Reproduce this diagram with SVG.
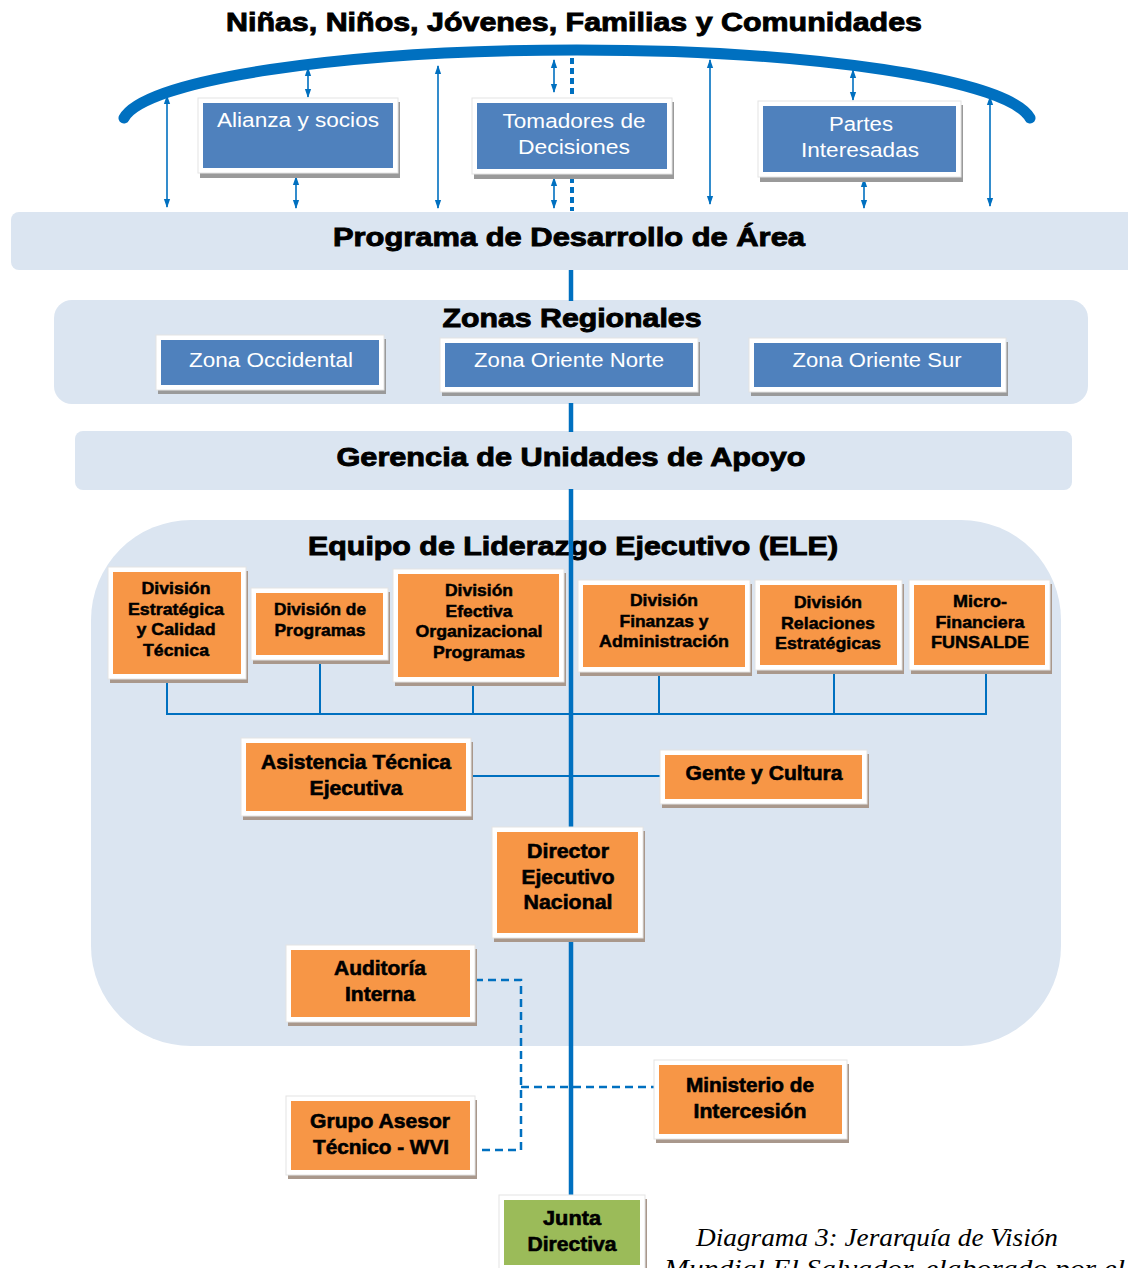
<svg xmlns="http://www.w3.org/2000/svg" width="1128" height="1268" viewBox="0 0 1128 1268">
<style>
.band{fill:#DBE5F1}
.hdr{font-family:"Liberation Sans",Arial,sans-serif;font-weight:bold;font-size:26px;fill:#000;stroke:#000;stroke-width:0.9;text-anchor:middle}
.frame{fill:#FFFFFF;stroke:#E4E4E4;stroke-width:1}
.shb{fill:#9A9A9A}
.sho{fill:#A9988C}
.fb{fill:#4F81BD}
.fo{fill:#F79646}
.fg{fill:#9BBB59}
.tb{font-family:"Liberation Sans",Arial,sans-serif;font-size:20px;fill:#FFFFFF;text-anchor:middle}
.to{font-family:"Liberation Sans",Arial,sans-serif;font-weight:bold;font-size:17px;fill:#000;stroke:#000;stroke-width:0.5;text-anchor:middle}
.tl{font-family:"Liberation Sans",Arial,sans-serif;font-weight:bold;font-size:20px;fill:#000;stroke:#000;stroke-width:0.6;text-anchor:middle}
.main{stroke:#0070C0;stroke-width:4.5;fill:none}
.thin{stroke:#0070C0;stroke-width:2;fill:none}
.arr{stroke:#0070C0;stroke-width:1.6;fill:none;marker-start:url(#ah);marker-end:url(#ah)}
.dash{stroke:#0070C0;stroke-width:2.5;fill:none;stroke-dasharray:8 5}
.dot{stroke:#0070C0;stroke-width:4;fill:none;stroke-dasharray:6 4}
.cap{font-family:"Liberation Serif","Times New Roman",serif;font-style:italic;font-size:26px;fill:#000}
</style>
<defs>
<marker id="ah" viewBox="0 0 10 10" refX="9" refY="5" markerWidth="9" markerHeight="9" orient="auto-start-reverse" markerUnits="userSpaceOnUse">
<path d="M0,1.5 L10,5 L0,8.5 z" fill="#0070C0"/>
</marker>
</defs>
<rect width="1128" height="1268" fill="#FFFFFF"/>

<g id="title">
<text class="hdr" x="574" y="31" textLength="696" lengthAdjust="spacingAndGlyphs">Niñas, Niños, Jóvenes, Familias y Comunidades</text>
</g>
<g id="arc">
<path d="M 124 118 A 455 75 0 0 1 1030 118" stroke="#0070C0" stroke-width="11" stroke-linecap="round" fill="none"/>
</g>

<g id="pda">
<rect class="band" x="11" y="212" width="1128" height="58" rx="8"/>
<text class="hdr" x="569" y="246" textLength="472" lengthAdjust="spacingAndGlyphs">Programa de Desarrollo de Área</text>
</g>
<g id="zonas">
<rect class="band" x="54" y="300" width="1034" height="104" rx="18"/>
<text class="hdr" x="572" y="327" textLength="259" lengthAdjust="spacingAndGlyphs">Zonas Regionales</text>
</g>
<g id="gerencia">
<rect class="band" x="75" y="431" width="997" height="59" rx="8"/>
<text class="hdr" x="571" y="466" textLength="469" lengthAdjust="spacingAndGlyphs">Gerencia de Unidades de Apoyo</text>
</g>
<g id="ele">
<rect class="band" x="91" y="520" width="970" height="526" rx="100" ry="100"/>
<text class="hdr" x="573" y="555" textLength="530" lengthAdjust="spacingAndGlyphs">Equipo de Liderazgo Ejecutivo (ELE)</text>
</g>

<g id="connectors">
<line class="arr" x1="167" y1="96" x2="167" y2="207"/>
<line class="arr" x1="308" y1="68" x2="308" y2="97"/>
<line class="arr" x1="296" y1="177" x2="296" y2="208"/>
<line class="arr" x1="438" y1="66" x2="438" y2="208"/>
<line class="arr" x1="554" y1="60" x2="554" y2="92"/>
<line class="arr" x1="554" y1="178" x2="554" y2="208"/>
<line class="arr" x1="710" y1="60" x2="710" y2="204"/>
<line class="arr" x1="853" y1="70" x2="853" y2="100"/>
<line class="arr" x1="864" y1="179" x2="864" y2="208"/>
<line class="arr" x1="990" y1="97" x2="990" y2="206"/>
<line class="dot" x1="572" y1="58" x2="572" y2="94"/>
<line class="dot" x1="572" y1="177" x2="572" y2="211"/>
<line class="main" x1="571" y1="270" x2="571" y2="301"/>
<line class="main" x1="571" y1="403" x2="571" y2="432"/>
<line class="main" x1="571" y1="489" x2="571" y2="1198"/>
<path class="thin" d="M167 679 V714 H986 V669"/>
<line class="thin" x1="320" y1="659" x2="320" y2="714"/>
<line class="thin" x1="473" y1="681" x2="473" y2="714"/>
<line class="thin" x1="659" y1="671" x2="659" y2="714"/>
<line class="thin" x1="834" y1="669" x2="834" y2="714"/>
<line class="thin" x1="470" y1="776" x2="662" y2="776"/>
<path class="dash" d="M475 980 H521 V1150 H475"/>
<line class="dash" x1="521" y1="1087" x2="655" y2="1087"/>
</g>

<g id="alianza">
<rect class="shb" x="200" y="102" width="200" height="76"/>
<rect class="frame" x="198" y="98" width="200" height="75"/>
<rect class="fb" x="203" y="103" width="190" height="65"/>
<text class="tb" x="298" y="127" textLength="162" lengthAdjust="spacingAndGlyphs">Alianza y socios</text>
</g>
<g id="tomadores">
<rect class="shb" x="474" y="102" width="200" height="77"/>
<rect class="frame" x="472" y="98" width="200" height="76"/>
<rect class="fb" x="477" y="103" width="190" height="66"/>
<text class="tb" x="574" y="128" textLength="143" lengthAdjust="spacingAndGlyphs">Tomadores de</text>
<text class="tb" x="574" y="154" textLength="112" lengthAdjust="spacingAndGlyphs">Decisiones</text>
</g>
<g id="partes">
<rect class="shb" x="760" y="105" width="203" height="77"/>
<rect class="frame" x="758" y="101" width="203" height="76"/>
<rect class="fb" x="763" y="106" width="193" height="66"/>
<text class="tb" x="861" y="131" textLength="64" lengthAdjust="spacingAndGlyphs">Partes</text>
<text class="tb" x="860" y="157" textLength="118" lengthAdjust="spacingAndGlyphs">Interesadas</text>
</g>

<g id="zona-occidental">
<rect class="shb" x="158" y="339" width="228" height="55"/>
<rect class="frame" x="156" y="335" width="228" height="55"/>
<rect class="fb" x="161" y="340" width="218" height="45"/>
<text class="tb" x="271" y="367" textLength="164" lengthAdjust="spacingAndGlyphs">Zona Occidental</text>
</g>
<g id="zona-oriente-norte">
<rect class="shb" x="442" y="342" width="258" height="54"/>
<rect class="frame" x="440" y="338" width="258" height="54"/>
<rect class="fb" x="445" y="343" width="248" height="44"/>
<text class="tb" x="569" y="367" textLength="190" lengthAdjust="spacingAndGlyphs">Zona Oriente Norte</text>
</g>
<g id="zona-oriente-sur">
<rect class="shb" x="751" y="342" width="257" height="54"/>
<rect class="frame" x="749" y="338" width="257" height="54"/>
<rect class="fb" x="754" y="343" width="247" height="44"/>
<text class="tb" x="877" y="367" textLength="169" lengthAdjust="spacingAndGlyphs">Zona Oriente Sur</text>
</g>

<g id="div-estrategica">
<rect class="sho" x="110" y="571" width="138" height="112"/>
<rect class="frame" x="108" y="567" width="138" height="112"/>
<rect class="fo" x="113" y="572" width="128" height="102"/>
<text class="to" x="176" y="594" textLength="69" lengthAdjust="spacingAndGlyphs">División</text>
<text class="to" x="176" y="615" textLength="96" lengthAdjust="spacingAndGlyphs">Estratégica</text>
<text class="to" x="176" y="635" textLength="79" lengthAdjust="spacingAndGlyphs">y Calidad</text>
<text class="to" x="176" y="656" textLength="66" lengthAdjust="spacingAndGlyphs">Técnica</text>
</g>
<g id="div-programas">
<rect class="sho" x="253" y="592" width="137" height="72"/>
<rect class="frame" x="251" y="588" width="137" height="72"/>
<rect class="fo" x="256" y="593" width="127" height="62"/>
<text class="to" x="320" y="615" textLength="92" lengthAdjust="spacingAndGlyphs">División de</text>
<text class="to" x="320" y="636" textLength="91" lengthAdjust="spacingAndGlyphs">Programas</text>
</g>
<g id="div-efectiva">
<rect class="sho" x="395" y="573" width="171" height="113"/>
<rect class="frame" x="393" y="569" width="171" height="113"/>
<rect class="fo" x="398" y="574" width="161" height="103"/>
<text class="to" x="479" y="596" textLength="68" lengthAdjust="spacingAndGlyphs">División</text>
<text class="to" x="479" y="617" textLength="67" lengthAdjust="spacingAndGlyphs">Efectiva</text>
<text class="to" x="479" y="637" textLength="127" lengthAdjust="spacingAndGlyphs">Organizacional</text>
<text class="to" x="479" y="658" textLength="92" lengthAdjust="spacingAndGlyphs">Programas</text>
</g>
<g id="div-finanzas">
<rect class="sho" x="580" y="584" width="172" height="92"/>
<rect class="frame" x="578" y="580" width="172" height="92"/>
<rect class="fo" x="583" y="585" width="162" height="82"/>
<text class="to" x="664" y="606" textLength="68" lengthAdjust="spacingAndGlyphs">División</text>
<text class="to" x="664" y="627" textLength="89" lengthAdjust="spacingAndGlyphs">Finanzas y</text>
<text class="to" x="664" y="647" textLength="130" lengthAdjust="spacingAndGlyphs">Administración</text>
</g>
<g id="div-relaciones">
<rect class="sho" x="757" y="584" width="147" height="90"/>
<rect class="frame" x="755" y="580" width="147" height="90"/>
<rect class="fo" x="760" y="585" width="137" height="80"/>
<text class="to" x="828" y="608" textLength="68" lengthAdjust="spacingAndGlyphs">División</text>
<text class="to" x="828" y="629" textLength="94" lengthAdjust="spacingAndGlyphs">Relaciones</text>
<text class="to" x="828" y="649" textLength="106" lengthAdjust="spacingAndGlyphs">Estratégicas</text>
</g>
<g id="micro-financiera">
<rect class="sho" x="911" y="584" width="141" height="90"/>
<rect class="frame" x="909" y="580" width="141" height="90"/>
<rect class="fo" x="914" y="585" width="131" height="80"/>
<text class="to" x="980" y="607" textLength="54" lengthAdjust="spacingAndGlyphs">Micro-</text>
<text class="to" x="980" y="628" textLength="89" lengthAdjust="spacingAndGlyphs">Financiera</text>
<text class="to" x="980" y="648" textLength="98" lengthAdjust="spacingAndGlyphs">FUNSALDE</text>
</g>

<g id="asistencia">
<rect class="sho" x="243" y="742" width="230" height="78"/>
<rect class="frame" x="241" y="738" width="230" height="78"/>
<rect class="fo" x="246" y="743" width="220" height="68"/>
<text class="tl" x="356" y="769" textLength="190" lengthAdjust="spacingAndGlyphs">Asistencia Técnica</text>
<text class="tl" x="356" y="795" textLength="93" lengthAdjust="spacingAndGlyphs">Ejecutiva</text>
</g>
<g id="gente-cultura">
<rect class="sho" x="662" y="754" width="207" height="54"/>
<rect class="frame" x="660" y="750" width="207" height="54"/>
<rect class="fo" x="665" y="755" width="197" height="44"/>
<text class="tl" x="764" y="780" textLength="157" lengthAdjust="spacingAndGlyphs">Gente y Cultura</text>
</g>
<g id="director">
<rect class="sho" x="494" y="831" width="151" height="111"/>
<rect class="frame" x="492" y="827" width="151" height="111"/>
<rect class="fo" x="497" y="832" width="141" height="101"/>
<text class="tl" x="568" y="858" textLength="82" lengthAdjust="spacingAndGlyphs">Director</text>
<text class="tl" x="568" y="884" textLength="93" lengthAdjust="spacingAndGlyphs">Ejecutivo</text>
<text class="tl" x="568" y="909" textLength="89" lengthAdjust="spacingAndGlyphs">Nacional</text>
</g>
<g id="auditoria">
<rect class="sho" x="288" y="949" width="189" height="77"/>
<rect class="frame" x="286" y="945" width="189" height="77"/>
<rect class="fo" x="291" y="950" width="179" height="67"/>
<text class="tl" x="380" y="975" textLength="92" lengthAdjust="spacingAndGlyphs">Auditoría</text>
<text class="tl" x="380" y="1001" textLength="70" lengthAdjust="spacingAndGlyphs">Interna</text>
</g>
<g id="ministerio">
<rect class="sho" x="656" y="1064" width="193" height="79"/>
<rect class="frame" x="654" y="1060" width="193" height="79"/>
<rect class="fo" x="659" y="1065" width="183" height="69"/>
<text class="tl" x="750" y="1092" textLength="128" lengthAdjust="spacingAndGlyphs">Ministerio de</text>
<text class="tl" x="750" y="1118" textLength="113" lengthAdjust="spacingAndGlyphs">Intercesión</text>
</g>
<g id="grupo-asesor">
<rect class="sho" x="288" y="1100" width="189" height="79"/>
<rect class="frame" x="286" y="1096" width="189" height="79"/>
<rect class="fo" x="291" y="1101" width="179" height="69"/>
<text class="tl" x="380" y="1128" textLength="140" lengthAdjust="spacingAndGlyphs">Grupo Asesor</text>
<text class="tl" x="381" y="1154" textLength="136" lengthAdjust="spacingAndGlyphs">Técnico - WVI</text>
</g>
<g id="junta">
<rect class="sho" x="501" y="1199" width="146" height="75"/>
<rect class="frame" x="499" y="1195" width="146" height="75"/>
<rect class="fg" x="504" y="1200" width="136" height="65"/>
<text class="tl" x="572" y="1225" textLength="58" lengthAdjust="spacingAndGlyphs">Junta</text>
<text class="tl" x="572" y="1251" textLength="89" lengthAdjust="spacingAndGlyphs">Directiva</text>
</g>

<g id="caption">
<text class="cap" x="877" y="1246" text-anchor="middle" textLength="362" lengthAdjust="spacingAndGlyphs">Diagrama 3: Jerarquía de Visión</text>
<text class="cap" x="664" y="1277" textLength="461" lengthAdjust="spacingAndGlyphs">Mundial El Salvador, elaborado por el</text>
</g>
</svg>
